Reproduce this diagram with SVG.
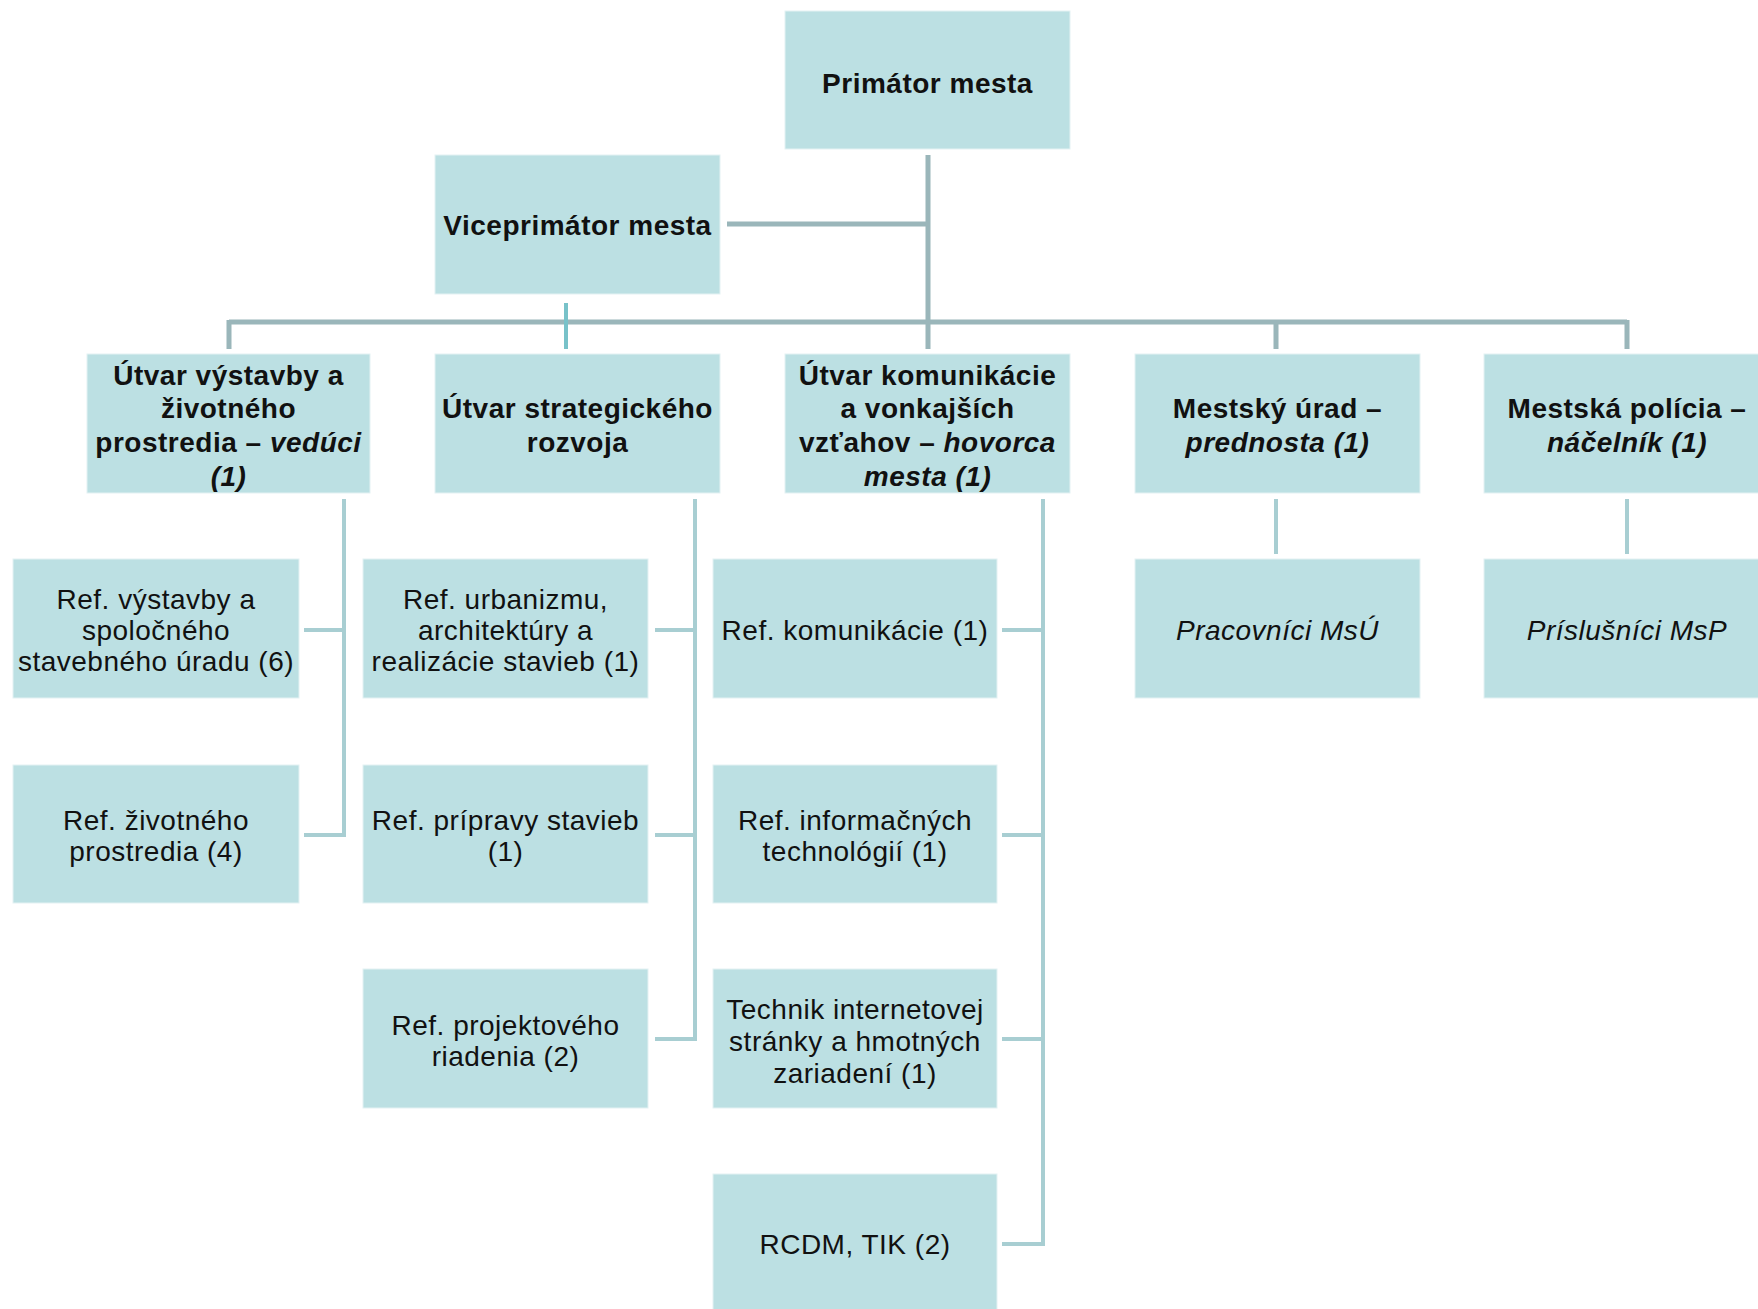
<svg xmlns="http://www.w3.org/2000/svg" width="1758" height="1309" viewBox="0 0 1758 1309">
<style>
.box{fill:#BCE0E3;stroke:#E4F2F3;stroke-width:1}
.t{font-family:"Liberation Sans",Arial,sans-serif;font-size:28px;fill:#111;text-anchor:middle;letter-spacing:0.5px}
.b{font-weight:bold}
.i{font-style:italic}
.c1{stroke:#9AB6BA;stroke-width:5;fill:none}
.c2{stroke:#A8CED2;stroke-width:4;fill:none}
.c3{stroke:#78C2C9;stroke-width:4;fill:none}
</style>
<rect width="1758" height="1309" fill="#ffffff"/>
<g id="connectors">
  <path class="c1" d="M928 155V349M727 224H928M229 322H1627M229 320V349M1276 320V349M1627 320V349"/>
  <path class="c3" d="M566 303V349"/>
  <path class="c2" d="M344 499V835M304 630H344M304 835H346"/>
  <path class="c2" d="M695 499V1039M655 630H695M655 835H695M655 1039H697"/>
  <path class="c2" d="M1043 499V1244M1002 630H1043M1002 835H1043M1002 1039H1043M1002 1244H1045"/>
  <path class="c2" d="M1276 499V554M1627 499V554"/>
</g>
<g id="primator">
  <rect class="box" x="785" y="11" width="285" height="138"/>
  <text class="t b" x="927.5" y="92.5">Primátor mesta</text>
</g>
<g id="viceprimator">
  <rect class="box" x="435" y="155" width="285" height="139"/>
  <text class="t b" x="577.5" y="235">Viceprimátor mesta</text>
</g>
<g id="utvar-vystavby">
  <rect class="box" x="87" y="354" width="283" height="139"/>
  <text class="t b" x="228.5" y="384.7">Útvar výstavby a</text>
  <text class="t b" x="228.5" y="418.4">životného</text>
  <text class="t b" x="228.5" y="452.1">prostredia – <tspan class="i">vedúci</tspan></text>
  <text class="t b i" x="228.5" y="485.8">(1)</text>
</g>
<g id="utvar-strategickeho">
  <rect class="box" x="435" y="354" width="285" height="139"/>
  <text class="t b" x="577.5" y="418.4">Útvar strategického</text>
  <text class="t b" x="577.5" y="452.1">rozvoja</text>
</g>
<g id="utvar-komunikacie">
  <rect class="box" x="785" y="354" width="285" height="139"/>
  <text class="t b" x="927.5" y="384.7">Útvar komunikácie</text>
  <text class="t b" x="927.5" y="418.4">a vonkajších</text>
  <text class="t b" x="927.5" y="452.1">vzťahov – <tspan class="i">hovorca</tspan></text>
  <text class="t b i" x="927.5" y="485.8">mesta (1)</text>
</g>
<g id="mestsky-urad">
  <rect class="box" x="1135" y="354" width="285" height="139"/>
  <text class="t b" x="1277.5" y="418.4">Mestský úrad –</text>
  <text class="t b i" x="1277.5" y="452.1">prednosta (1)</text>
</g>
<g id="mestska-policia">
  <rect class="box" x="1484" y="354" width="286" height="139"/>
  <text class="t b" x="1627" y="418.4">Mestská polícia –</text>
  <text class="t b i" x="1627" y="452.1">náčelník (1)</text>
</g>
<g id="ref-vystavby">
  <rect class="box" x="13" y="559" width="286" height="139"/>
  <text class="t" x="156" y="609">Ref. výstavby a</text>
  <text class="t" x="156" y="640">spoločného</text>
  <text class="t" x="156" y="671">stavebného úradu (6)</text>
</g>
<g id="ref-zivotneho">
  <rect class="box" x="13" y="765" width="286" height="138"/>
  <text class="t" x="156" y="830">Ref. životného</text>
  <text class="t" x="156" y="861">prostredia (4)</text>
</g>
<g id="ref-urbanizmu">
  <rect class="box" x="363" y="559" width="285" height="139"/>
  <text class="t" x="505.5" y="609">Ref. urbanizmu,</text>
  <text class="t" x="505.5" y="640">architektúry a</text>
  <text class="t" x="505.5" y="671">realizácie stavieb (1)</text>
</g>
<g id="ref-pripravy">
  <rect class="box" x="363" y="765" width="285" height="138"/>
  <text class="t" x="505.5" y="830">Ref. prípravy stavieb</text>
  <text class="t" x="505.5" y="861">(1)</text>
</g>
<g id="ref-projektoveho">
  <rect class="box" x="363" y="969" width="285" height="139"/>
  <text class="t" x="505.5" y="1034.5">Ref. projektového</text>
  <text class="t" x="505.5" y="1065.5">riadenia (2)</text>
</g>
<g id="ref-komunikacie">
  <rect class="box" x="713" y="559" width="284" height="139"/>
  <text class="t" x="855" y="640">Ref. komunikácie (1)</text>
</g>
<g id="ref-informacnych">
  <rect class="box" x="713" y="765" width="284" height="138"/>
  <text class="t" x="855" y="830">Ref. informačných</text>
  <text class="t" x="855" y="861">technológií (1)</text>
</g>
<g id="technik">
  <rect class="box" x="713" y="969" width="284" height="139"/>
  <text class="t" x="855" y="1018.5">Technik internetovej</text>
  <text class="t" x="855" y="1050.5">stránky a hmotných</text>
  <text class="t" x="855" y="1082.5">zariadení (1)</text>
</g>
<g id="rcdm">
  <rect class="box" x="713" y="1174" width="284" height="139"/>
  <text class="t" x="855" y="1254">RCDM, TIK (2)</text>
</g>
<g id="pracovnici">
  <rect class="box" x="1135" y="559" width="285" height="139"/>
  <text class="t i" x="1277.5" y="640">Pracovníci MsÚ</text>
</g>
<g id="prislusnici">
  <rect class="box" x="1484" y="559" width="286" height="139"/>
  <text class="t i" x="1627" y="640">Príslušníci MsP</text>
</g>
</svg>
